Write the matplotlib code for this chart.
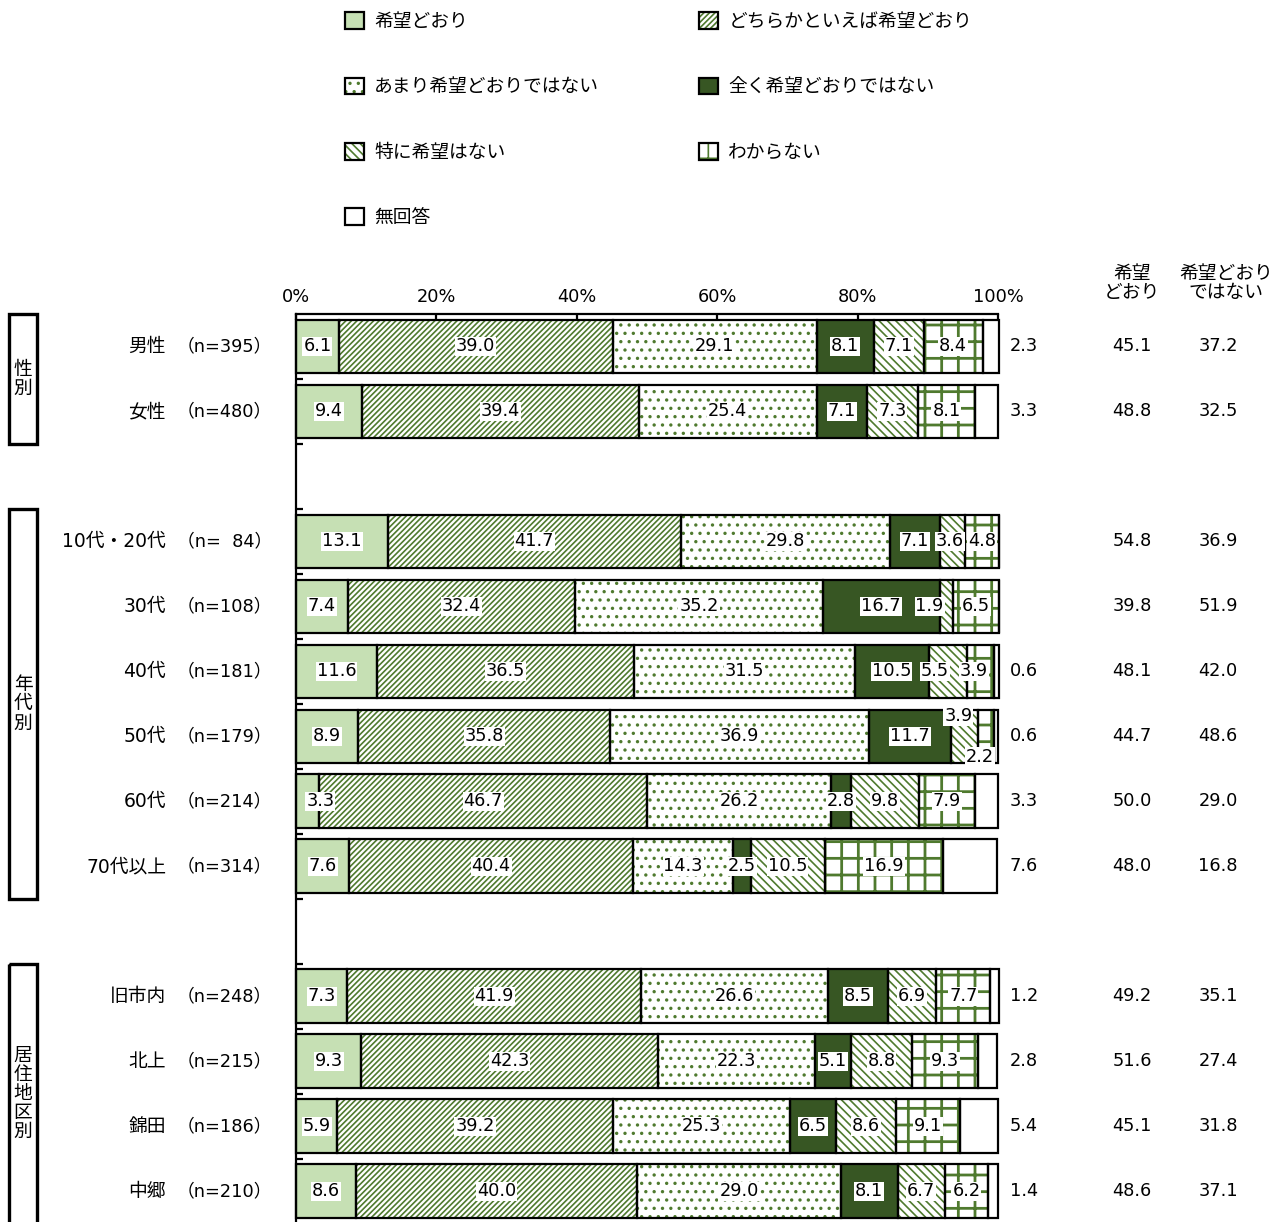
import matplotlib
matplotlib.use("Agg")
import matplotlib.pyplot as plt
from matplotlib.patches import Patch, Rectangle
from matplotlib.legend_handler import HandlerTuple
from matplotlib.transforms import blended_transform_factory
import numpy as np

plt.rcParams['font.family'] = ['DejaVu Sans', 'Noto Sans CJK JP']
plt.rcParams['hatch.linewidth'] = 1.2

# ---- data ----
series = ["希望どおり", "どちらかといえば希望どおり", "あまり希望どおりではない",
          "全く希望どおりではない", "特に希望はない", "わからない", "無回答"]

groups = ["男性", "女性", "10代・20代", "30代", "40代", "50代", "60代", "70代以上",
          "旧市内", "北上", "錦田", "中郷"]
n_labels = ["（n=395）", "（n=480）", "（n=\u200784）", "（n=108）", "（n=181）", "（n=179）",
            "（n=214）", "（n=314）", "（n=248）", "（n=215）", "（n=186）", "（n=210）"]

kibou_doori   = [6.1, 9.4, 13.1, 7.4, 11.6, 8.9, 3.3, 7.6, 7.3, 9.3, 5.9, 8.6]
dochiraka     = [39.0, 39.4, 41.7, 32.4, 36.5, 35.8, 46.7, 40.4, 41.9, 42.3, 39.2, 40.0]
amari         = [29.1, 25.4, 29.8, 35.2, 31.5, 36.9, 26.2, 14.3, 26.6, 22.3, 25.3, 29.0]
mattaku       = [8.1, 7.1, 7.1, 16.7, 10.5, 11.7, 2.8, 2.5, 8.5, 5.1, 6.5, 8.1]
tokuni        = [7.1, 7.3, 3.6, 1.9, 5.5, 3.9, 9.8, 10.5, 6.9, 8.8, 8.6, 6.7]
wakaranai     = [8.4, 8.1, 4.8, 6.5, 3.9, 2.2, 7.9, 16.9, 7.7, 9.3, 9.1, 6.2]
mukaitou      = [2.3, 3.3, 0.0, 0.0, 0.6, 0.6, 3.3, 7.6, 1.2, 2.8, 5.4, 1.4]

total_doori   = [45.1, 48.8, 54.8, 39.8, 48.1, 44.7, 50.0, 48.0, 49.2, 51.6, 45.1, 48.6]
total_not     = [37.2, 32.5, 36.9, 51.9, 42.0, 48.6, 29.0, 16.8, 35.1, 27.4, 31.8, 37.1]

section_names = ["性\n別", "年\n代\n別", "居\n住\n地\n区\n別"]
section_rows = [(0, 1), (2, 7), (8, 11)]

xticks = [0, 20, 40, 60, 80, 100]
xticklabels = ["0%", "20%", "40%", "60%", "80%", "100%"]

# ---- styling ----
LIGHT = "#c6e0b4"
DARK = "#375623"
HATCH = "#4f7a2e"
styles = [
    dict(face=LIGHT, hatch=None, hlw=1.2),
    dict(face="white", hatch="//////", hlw=1.2),
    dict(face="white", hatch="..", hlw=1.2),
    dict(face=DARK, hatch=None, hlw=1.2),
    dict(face="white", hatch="\\\\\\\\", hlw=1.2),
    dict(face="white", hatch="+", hlw=2.0),
    dict(face="white", hatch=None, hlw=1.2),
]

W, H = 1282, 1222
fig = plt.figure(figsize=(W / 100, H / 100), dpi=100)
ax_top_px, ax_left_px, ax_right_px = 314, 296, 998
ax = fig.add_axes([ax_left_px / W, 0, (ax_right_px - ax_left_px) / W, (H - ax_top_px) / H])

# row positions with blank rows between sections
ypos = np.array([0, 1, 3, 4, 5, 6, 7, 8, 10, 11, 12, 13], dtype=float)
bar_h = 0.83
values = np.array([kibou_doori, dochiraka, amari, mattaku, tokuni, wakaranai, mukaitou])

# small nudges for crowded value labels: (group, series index) -> (dx, dy)
nudges = {("50代", 4): (-0.9, -0.31), ("50代", 5): (-0.9, 0.31),
          ("40代", 4): (-1.8, 0.0), ("40代", 5): (-1.0, 0.0),
          ("30代", 4): (-2.4, 0.0), ("10代・20代", 4): (-0.4, 0.0),
          ("60代", 0): (1.8, 0.0)}

left = np.zeros(len(groups))
handles = []
FS = 13.5     # Japanese labels
FN = 12.8     # numbers
for i, (name, st) in enumerate(zip(series, styles)):
    vals = values[i]
    hc = HATCH if st["hatch"] else st["face"]
    with plt.rc_context({"hatch.linewidth": st["hlw"]}):
        ax.barh(ypos, vals, left=left, height=bar_h, color=st["face"], edgecolor=hc,
                hatch=st["hatch"], linewidth=0, clip_on=False, zorder=2)
        fill_proxy = Patch(facecolor=st["face"], edgecolor=hc, hatch=st["hatch"], linewidth=0)
    ax.barh(ypos, vals, left=left, height=bar_h, fill=False, edgecolor="black",
            linewidth=1.6, clip_on=False, zorder=3)
    handles.append((fill_proxy, Patch(fill=False, edgecolor="black", linewidth=1.6)))
    for j, v in enumerate(vals):
        if v <= 0:
            continue
        cx = left[j] + v / 2
        cy = ypos[j]
        if i == 6:
            ax.text(103.7, cy, f"{v:.1f}", ha="center", va="center", fontsize=FN, zorder=5,
                    clip_on=False)
            continue
        dx, dy = nudges.get((groups[j], i), (0, 0))
        ax.text(cx + dx, cy + dy, f"{v:.1f}", ha="center", va="center", fontsize=FN, zorder=5,
                bbox=dict(boxstyle="square,pad=0.05", facecolor="white", edgecolor="none"))
    left = left + vals

ax.set_xlim(0, 100)
ax.set_ylim(13.47, -0.5)
for s in ["right", "bottom"]:
    ax.spines[s].set_visible(False)
ax.spines["top"].set_linewidth(1.6)
ax.spines["left"].set_linewidth(1.6)
ax.xaxis.tick_top()
ax.set_xticks(xticks)
ax.set_xticklabels(xticklabels, fontsize=FN)
ax.tick_params(axis="x", direction="in", length=4, width=1.6, pad=6)
ax.set_yticks([])
ax.set_yticks(np.arange(0.5, 13.5, 1.0), minor=True)
ax.tick_params(axis="y", which="minor", direction="in", length=5, width=1.6)
ax.patch.set_alpha(0)

# category labels and totals (figure x, data y)
tb = blended_transform_factory(fig.transFigure, ax.transData)
for j, g in enumerate(groups):
    ax.text(166 / W, ypos[j], g, transform=tb, ha="right", va="center", fontsize=FS)
    ax.text(272 / W, ypos[j], n_labels[j], transform=tb, ha="right", va="center", fontsize=FN)
    ax.text(1132 / W, ypos[j], f"{total_doori[j]:.1f}", transform=tb, ha="center",
            va="center", fontsize=FN)
    ax.text(1218 / W, ypos[j], f"{total_not[j]:.1f}", transform=tb, ha="center",
            va="center", fontsize=FN)

fig.text(1132 / W, 1 - 283 / H, "希望\nどおり", ha="center", va="center", fontsize=FS,
         linespacing=0.95)
fig.text(1226 / W, 1 - 283 / H, "希望どおり\nではない", ha="center", va="center", fontsize=FS,
         linespacing=0.95)

# section boxes
for name, (r0, r1) in zip(section_names, section_rows):
    y0 = ypos[r0] - 0.5
    y1 = ypos[r1] + 0.5 + (0.3 if r1 == len(groups) - 1 else 0)
    rect = Rectangle((9 / W, y0), 28 / W, y1 - y0, transform=tb, fill=False,
                     edgecolor="black", linewidth=2.4, clip_on=False)
    ax.add_patch(rect)
    yc = (ypos[r0] + ypos[r1]) / 2
    ax.text(23 / W, yc, name, transform=tb, ha="center", va="center", fontsize=FS,
            linespacing=1.0)

# legend: two columns, filled column by column
order = [0, 2, 4, 6, 1, 3, 5]
leg = fig.legend([handles[k] for k in order], [series[k] for k in order],
                 handler_map={tuple: HandlerTuple(ndivide=1, pad=0)},
                 loc="upper left", bbox_to_anchor=(345 / W, 1 - 12 / H),
                 bbox_transform=fig.transFigure, ncol=2, frameon=False,
                 fontsize=FS, handlelength=1.0, handleheight=1.0, handletextpad=0.55,
                 labelspacing=2.47, columnspacing=5.35, borderpad=0, borderaxespad=0)
fig.savefig("out.png", dpi=100)
